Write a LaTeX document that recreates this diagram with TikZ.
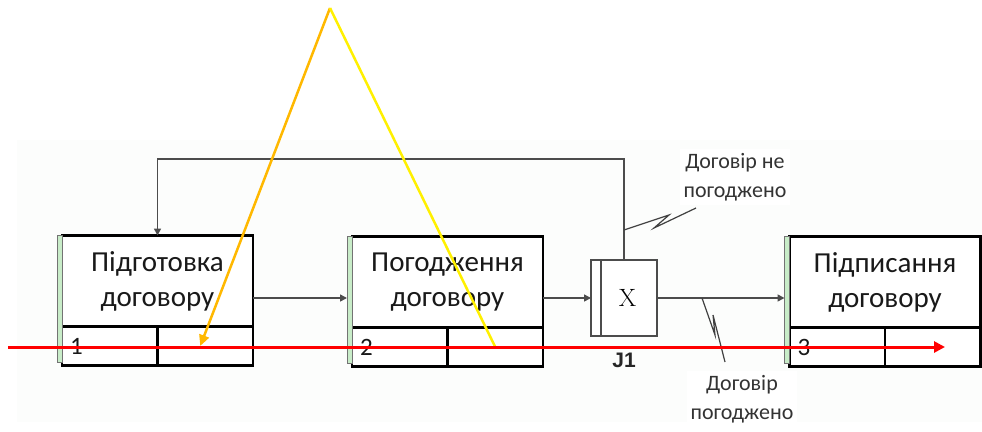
\documentclass[tikz,border=0pt]{standalone}
\usepackage{fontspec}
\newfontfamily\calib{Carlito}
\newfontfamily\arialb{Liberation Sans}
\usetikzlibrary{arrows.meta,positioning}
\definecolor{stripgreen}{RGB}{200,236,200}
\definecolor{overlayorange}{RGB}{255,184,0}
\definecolor{overlayyellow}{RGB}{255,240,0}
\definecolor{bgpale}{RGB}{252,253,252}
\tikzset{
  boxtop/.style={draw=black,line width=2.8pt,fill=white,inner sep=0pt,outer sep=0pt,
    minimum width=191pt,minimum height=91pt,align=center,text=black!90,
    font=\calib\fontsize{29}{35}\selectfont},
  cell/.style={draw=black,line width=2.8pt,fill=white,inner ysep=0pt,inner xsep=8pt,outer sep=0pt,
    text width=79.5pt,minimum height=39pt,align=left,text=black!90,
    font=\calib\fontsize{25}{25}\selectfont},
  strip/.style={draw=black!55,line width=0.8pt,fill=stripgreen,inner sep=0pt,outer sep=0pt,
    minimum width=5pt,minimum height=127pt},
  junction/.style={draw=black!70,line width=1.5pt,fill=white,inner sep=0pt,outer sep=0pt,
    minimum width=66pt,minimum height=76pt,font=\fontsize{25}{25}\selectfont},
  flow/.style={draw=black!70,line width=1.6pt,-{Triangle[width=7pt,length=7pt]}},
  leader/.style={draw=black!75,line width=1.2pt},
  note/.style={fill=white,align=center,text=black!80,inner sep=4pt,
    font=\calib\fontsize{22}{29}\selectfont},
}
\begin{document}
\begin{tikzpicture}[x=1pt,y=-1pt]
    \useasboundingbox (0,0) rectangle (982,431);
    \fill[bgpale] (17,140) rectangle (982,422);
    %Box 1
    \node[boxtop] (b1) at (157.5,281) {Підготовка\\договору};
    \node[cell,anchor=north west] (n1) at (b1.south west) {1};
    \node[cell,anchor=north west] (e1) at (n1.north east) {};
    \node[strip,anchor=north east] (s1) at (b1.north west) {};
    %Box 2
    \node[boxtop] (b2) at (447.5,282) {Погодження\\договору};
    \node[cell,anchor=north west] (n2) at (b2.south west) {2};
    \node[cell,anchor=north west] (e2) at (n2.north east) {};
    \node[strip,anchor=north east] (s2) at (b2.north west) {};
    %Box 3
    \node[boxtop] (b3) at (885,282) {Підписання\\договору};
    \node[cell,anchor=north west] (n3) at (b3.south west) {3};
    \node[cell,anchor=north west] (e3) at (n3.north east) {};
    \node[strip,anchor=north east] (s3) at (b3.north west) {};
    %Junction J1
    \node[junction] (j1) at (624,298) {\hspace*{7pt}X};
    \draw[draw=black!70,line width=1.5pt] ([xshift=10pt]j1.north west) -- ([xshift=10pt]j1.south west);
    \node[below=17pt of j1,inner sep=0pt,font=\arialb\bfseries\fontsize{21}{21}\selectfont,text=black!85] (j1lab) {J1};
    %Arrows
    \draw[flow] (b1.east |- j1.center) -- (s2.west |- j1.center);
    \draw[flow] (b2.east |- j1.center) -- (j1.west);
    \draw[flow] (j1.east) -- (s3.west |- j1.center);
    \coordinate (back) at (0,159);
    \draw[flow] (j1.north) -- (back -| j1.north) -- (back -| b1.north) -- (b1.north);
    %Notes
    \node[note] (nno) at (735,177) {Договір не\\погоджено};
    \node[note] (nyes) at (742,399) {Договір\\погоджено};
    \draw[leader] ([yshift=30pt]j1.north) -- ++(45,-15) -- ++(-15,13) -- ++(42,-20);
    \draw[leader] ([xshift=45pt]j1.east) -- ++(13,37) -- ++(-2,-20) -- ++(12,47);
    %Overlay
    \coordinate (apex) at (330,8);
    \coordinate (rstart) at (8,347);
    \coordinate (rend) at (945,347);
    \draw[overlayorange,line width=2.5pt,-{Triangle[width=10pt,length=11pt]}] (apex) -- ([xshift=-5pt]e1.center);
    \draw[overlayyellow,line width=2.5pt] (apex) -- (e2.center);
    \draw[red,line width=3pt,-{Triangle[width=11pt,length=11pt]}] (rstart) -- (rend);
\end{tikzpicture}
\end{document}
